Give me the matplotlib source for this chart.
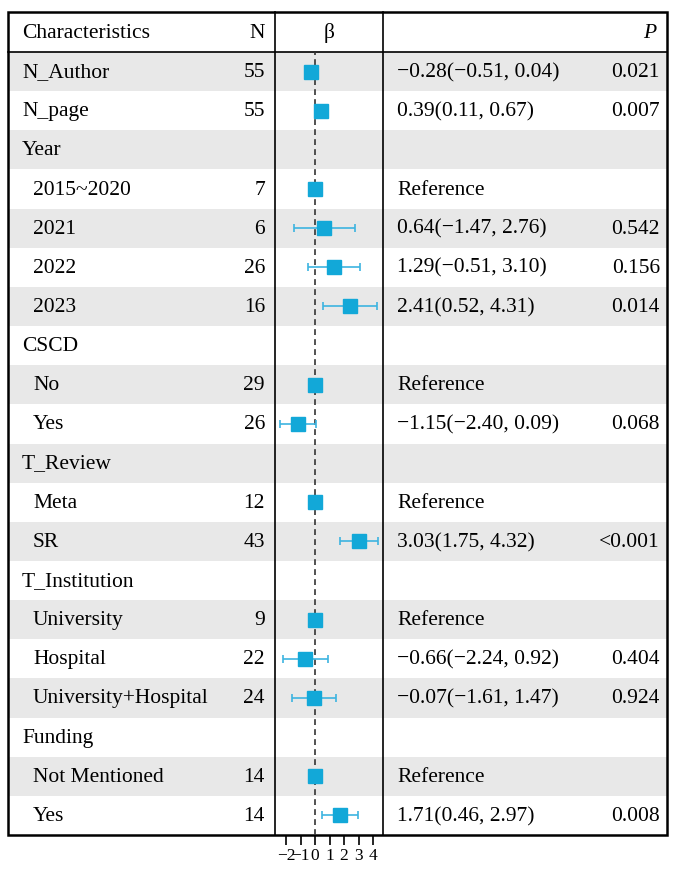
import numpy as np
import matplotlib
matplotlib.use("Agg")
import matplotlib.pyplot as plt
from matplotlib.patches import Rectangle

# Dados da tabela
linhas = ["N_Author", "N_page", "Year", "2015~2020", "2021", "2022", "2023",
          "CSCD", "No", "Yes", "T_Review", "Meta", "SR", "T_Institution",
          "University", "Hospital", "University+Hospital", "Funding",
          "Not Mentioned", "Yes"]
recuo = [0, 0, 0, 1, 1, 1, 1, 0, 1, 1, 0, 1, 1, 0, 1, 1, 1, 0, 1, 1]
n_vals = ["55", "55", "", "7", "6", "26", "16", "", "29", "26", "", "12", "43",
          "", "9", "22", "24", "", "14", "14"]
nan = np.nan
beta = [-0.28, 0.39, nan, 0, 0.64, 1.29, 2.41, nan, 0, -1.15, nan, 0, 3.03,
        nan, 0, -0.66, -0.07, nan, 0, 1.71]
ic_inf = [-0.51, 0.11, nan, nan, -1.47, -0.51, 0.52, nan, nan, -2.40, nan, nan,
          1.75, nan, nan, -2.24, -1.61, nan, nan, 0.46]
ic_sup = [0.04, 0.67, nan, nan, 2.76, 3.10, 4.31, nan, nan, 0.09, nan, nan,
          4.32, nan, nan, 0.92, 1.47, nan, nan, 2.97]
est_txt = ["\u22120.28(\u22120.51, 0.04)", "0.39(0.11, 0.67)", "", "Reference",
           "0.64(\u22121.47, 2.76)", "1.29(\u22120.51, 3.10)", "2.41(0.52, 4.31)", "",
           "Reference", "\u22121.15(\u22122.40, 0.09)", "", "Reference",
           "3.03(1.75, 4.32)", "", "Reference", "\u22120.66(\u22122.24, 0.92)",
           "\u22120.07(\u22121.61, 1.47)", "", "Reference", "1.71(0.46, 2.97)"]
p_txt = ["0.021", "0.007", "", "", "0.542", "0.156", "0.014", "", "", "0.068",
         "", "", "<0.001", "", "", "0.404", "0.924", "", "", "0.008"]
ticks = [-2, -1, 0, 1, 2, 3, 4]

plt.rcParams['font.family'] = ['Liberation Serif', 'DejaVu Serif']

W, H = 682, 873
fig = plt.figure(figsize=(W / 100, H / 100), dpi=100)
ax = fig.add_axes([0, 0, 1, 1])
ax.set_xlim(0, W)
ax.set_ylim(H, 0)
ax.axis("off")

# geometria (pixels)
x0, x1 = 8, 667
xa, xb = 275, 383
y_top, y_head, y_bot = 12, 52, 835
nl = len(linhas)
h_lin = (y_bot - y_head) / nl
fs = 15.5
cor_cinza = "#e8e8e8"

for i in range(nl):
    yc = y_head + (i + 0.5) * h_lin + 1
    if i % 2 == 0:
        ax.add_patch(Rectangle((x0, y_head + i * h_lin), x1 - x0, h_lin,
                               color=cor_cinza, lw=0, zorder=0))
    ax.text(22 + 11 * recuo[i], yc, linhas[i], fontsize=fs, va="center", ha="left")
    ax.text(265, yc, n_vals[i], fontsize=fs, va="center", ha="right")
    ax.text(397, yc, est_txt[i], fontsize=fs, va="center", ha="left")
    ax.text(660, yc, p_txt[i], fontsize=fs, va="center", ha="right")

# cabeçalho
yh = (y_top + y_head) / 2 + 1
ax.text(22, yh, "Characteristics", fontsize=fs, va="center", ha="left")
ax.text(265, yh, "N", fontsize=fs, va="center", ha="right")
ax.text((xa + xb) / 2, yh, "\u03b2", fontsize=fs, va="center", ha="center")
ax.text(656, yh, "P", fontsize=fs, va="center", ha="right", style="italic")

# bordas
ax.add_patch(Rectangle((x0, y_top), x1 - x0, y_bot - y_top, fill=False,
                       ec="black", lw=1.8, zorder=5))
ax.plot([x0, x1], [y_head, y_head], color="black", lw=1.2, zorder=5)
ax.plot([xa, xa], [y_top, y_bot], color="black", lw=1.2, zorder=5)
ax.plot([xb, xb], [y_top, y_bot], color="black", lw=1.2, zorder=5)

# gráfico de floresta
axf = fig.add_axes([xa / W, 1 - y_bot / H, (xb - xa) / W, (y_bot - y_head) / H])
axf.patch.set_alpha(0)
axf.set_xlim(-2.76, 4.69)
axf.set_ylim(nl, 0)
for s in axf.spines.values():
    s.set_visible(False)
axf.axvline(0, color="#333333", lw=1.2, ls=(0, (3.5, 2.5)), zorder=1)

y_pos = np.arange(nl) + 0.5
b = np.array(beta)
lo = np.array(ic_inf)
hi = np.array(ic_sup)
tem_ic = ~np.isnan(lo)
axf.errorbar(b[tem_ic], y_pos[tem_ic],
             xerr=[b[tem_ic] - lo[tem_ic], hi[tem_ic] - b[tem_ic]],
             fmt="none", ecolor="#3db4e0", elinewidth=1.2, capsize=3, capthick=1.2,
             zorder=2)
ok = ~np.isnan(b)
axf.plot(b[ok], y_pos[ok], "s", color="#12a8d8", markersize=10, zorder=3)

axf.set_yticks([])
axf.set_xticks(ticks)
axf.set_xticklabels([str(t).replace("-", "\u2212") for t in ticks], fontsize=12.5)
axf.tick_params(axis="x", length=7, width=1.2, pad=2)

fig.savefig("out.png", dpi=100)
